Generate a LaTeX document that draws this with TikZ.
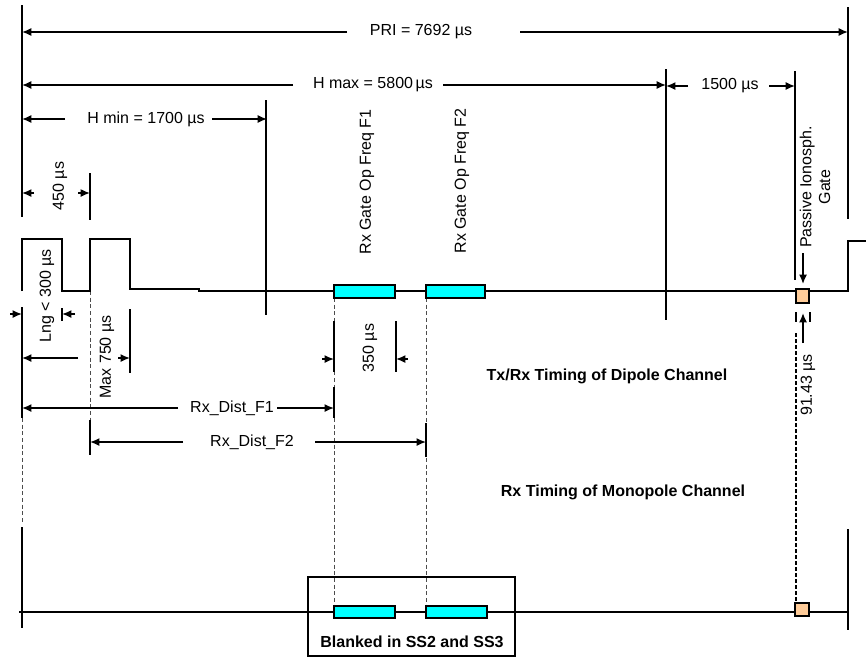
\documentclass[tikz,border=0pt]{standalone}
\usepackage{fontspec}
\setmainfont{Liberation Sans}
\usetikzlibrary{arrows.meta}
\definecolor{gatecyan}{HTML}{00FFFF}
\definecolor{peach}{HTML}{FFCC99}
\begin{document}
\begin{tikzpicture}[x=0.75pt,y=-0.75pt,
  ln/.style={line width=1.2pt},
  dim/.style={line width=1.2pt,-{Latex[length=7pt,width=6pt]}},
  guide/.style={black!70,line width=0.5pt,dash pattern=on 3pt off 2pt},
  dotln/.style={line width=1.7pt,dash pattern=on 3pt off 1.5pt},
  lbl/.style={font=\fontsize{12}{14}\selectfont,inner sep=1pt},
  rlbl/.style={lbl,rotate=90},
  bold/.style={font=\fontsize{12}{14}\selectfont\bfseries,inner sep=1pt},
  gatebox/.style={draw,line width=1.2pt,fill=gatecyan},
  ionobox/.style={draw,line width=1.2pt,fill=peach}]
\useasboundingbox (0,0) rectangle (866,658);

% guides (thin dashed)
\draw[guide] (90,291) -- (90,420);
\draw[guide] (334,298) -- (334,606);
\draw[guide] (426,298) -- (426,606);
\draw[guide] (22,418) -- (22,522);
\draw[dotln] (796,333) -- (796,603);

% main verticals
\draw[ln] (22,5) -- (22,217);
\draw[ln] (848,7) -- (848,219);

% PRI
\node[lbl] (pri) at (421,32) {PRI = 7692 µs};
\draw[dim] (347,32) -- (22,32);
\draw[dim] (520,32) -- (848,32);

% H max
\node[lbl] (hmax) at (373,85) {H max = 5800\,µs};
\draw[dim] (293,85) -- (22,85);
\draw[dim] (443,85) -- (666,85);
\draw[ln] (666,69) -- (666,320);

% 1500
\node[lbl] (t1500) at (730,86) {1500 µs};
\draw[dim] (688,86) -- (666,86);
\draw[dim] (769,86) -- (795,86);
\draw[ln] (795,71) -- (795,280);

% H min
\node[lbl] (hmin) at (146,119) {H min = 1700 µs};
\draw[dim] (65,119) -- (22,119);
\draw[dim] (212,119) -- (267,119);
\draw[ln] (266,100) -- (266,315);

% 450
\draw[ln] (90,173) -- (90,220);
\draw[dim] (34,193) -- (22,193);
\draw[dim] (78,193) -- (90,193);
\node[rlbl] (t450) at (60,186) {450 µs};

% Tx pulses and dipole baseline
\draw[ln] (22,291) -- (22,239) -- (62,239) -- (62,291) -- (90,291) -- (90,239) -- (130,239) -- (130,289) -- (200,289);
\draw[ln] (198,291) -- (848,291) -- (848,241) -- (866,241);
\draw[gatebox] (334,285) rectangle (395,298);
\draw[gatebox] (426,285) rectangle (485,298);
\draw[ionobox] (796,289) rectangle (809,303);

% Rx gate labels
\node[rlbl] (gf1) at (367,182) {Rx Gate Op Freq F1};
\node[rlbl] (gf2) at (462,181) {Rx Gate Op Freq F2};

% Passive ionospheric gate
\node[rlbl,align=center] (pig) at (815,187) {Passive Ionosph.\\Gate};
\draw[dim] (803,253) -- (803,284);

% 91.43
\draw[ln] (796,312) -- (796,322);
\draw[ln] (810,312) -- (810,322);
\draw[dim] (803,343) -- (803,313);
\node[rlbl] (t9143) at (808,385) {91.43 µs};

% Lng < 300
\draw[ln] (22,307) -- (22,418);
\draw[ln] (62,308) -- (62,321);
\draw[dim] (10,314) -- (22,314);
\draw[dim] (75,314) -- (62,314);
\node[rlbl] (lng) at (47,296) {Lng < 300 µs};

% Max 750
\draw[ln] (130,309) -- (130,373);
\draw[dim] (78,358) -- (22,358);
\draw[dim] (118,358) -- (130,358);
\node[rlbl] (max750) at (107,357) {Max 750 µs};

% 350
\draw[ln] (334,321) -- (334,372);
\draw[ln] (396,321) -- (396,372);
\draw[dim] (322,359) -- (334,359);
\draw[dim] (408,359) -- (396,359);
\node[rlbl] (t350) at (370,348) {350 µs};

% Rx_Dist_F1
\draw[ln] (334,387) -- (334,418);
\node[lbl] (d1) at (232,408) {Rx\_Dist\_F1};
\draw[dim] (178,408) -- (22,408);
\draw[dim] (277,408) -- (334,408);

% Rx_Dist_F2
\draw[ln] (90,420) -- (90,455);
\draw[ln] (426,423) -- (426,457);
\node[lbl] (d2) at (252,442) {Rx\_Dist\_F2};
\draw[dim] (183,442) -- (90,442);
\draw[dim] (315,442) -- (426,442);

% titles
\node[bold] (tdip) at (607,376) {Tx/Rx Timing of Dipole Channel};
\node[bold] (tmono) at (623,492) {Rx Timing of Monopole Channel};

% monopole channel
\draw[ln] (22,527) -- (22,628);
\draw[ln] (848,529) -- (848,630);
\draw[ln] (19,612) -- (848,612);
\draw[ln] (308,577) rectangle (515,656);
\draw[gatebox] (334,606) rectangle (395,618);
\draw[gatebox] (426,606) rectangle (487,618);
\draw[ionobox] (795,603) rectangle (809,616);
\node[bold] (blank) at (412,642) {Blanked in SS2 and SS3};
\end{tikzpicture}
\end{document}
